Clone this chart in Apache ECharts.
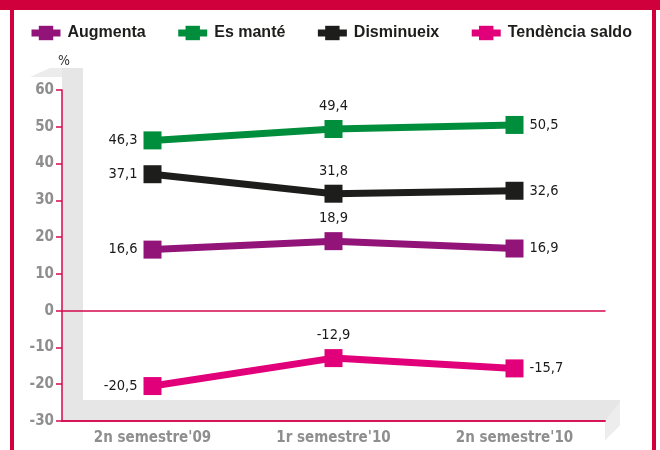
<!DOCTYPE html>
<html>
<head>
<meta charset="utf-8">
<script src="https://cdn.jsdelivr.net/npm/echarts@6/dist/echarts.min.js"></script>
<style>
  html, body { margin: 0; padding: 0; background: #fff; }
  #main { width: 660px; height: 450px; }
</style>
</head>
<body>
<div id="main"></div>
<script>
var categories = ["2n semestre'09", "1r semestre'10", "2n semestre'10"];
var augmenta = [16.6, 18.9, 16.9];
var esMante = [46.3, 49.4, 50.5];
var disminueix = [37.1, 31.8, 32.6];
var tendencia = [-20.5, -12.9, -15.7];
var seriesNames = ['Augmenta', 'Es manté', 'Disminueix', 'Tendència saldo'];
var seriesColors = ['#921479', '#008e3c', '#1d1d1b', '#e2007a'];

var frameColor = '#d0003c';
var axisColor = '#d6084e';
var greyText = '#8e8e8e';
var narrow = '"Liberation Sans Narrow", "DejaVu Sans Condensed", sans-serif';

var labelPos = ['left', 'top', 'right'];

function makeSeries(name, values, color) {
    return {
        name: name,
        type: 'line',
        data: values.map(function (v, i) {
            return { value: v, label: { position: labelPos[i] } };
        }),
        symbol: 'rect',
        symbolSize: 18,
        lineStyle: { width: 7, color: color },
        itemStyle: { color: color },
        label: {
            show: true,
            distance: 6,
            color: '#1a1a1a',
            fontFamily: narrow,
            fontSize: 14.5,
            formatter: function (p) { return String(p.value).replace('.', ','); }
        },
        z: 3
    };
}

var myChart = echarts.init(document.getElementById('main'));

var option = {
    animation: false,
    backgroundColor: '#fff',
    graphic: [
        // frame
        { type: 'rect', shape: { x: 0, y: 0, width: 660, height: 10 }, style: { fill: frameColor } },
        { type: 'rect', shape: { x: 10, y: 0, width: 4, height: 450 }, style: { fill: frameColor } },
        { type: 'rect', shape: { x: 652, y: 0, width: 4, height: 450 }, style: { fill: frameColor } },
        // grey 3d wall and floor
        { type: 'polygon', z: -10, shape: { points: [[30, 77], [50, 68], [83, 68], [62, 77]] }, style: { fill: '#ececec' } },
        { type: 'rect', z: -10, shape: { x: 62, y: 68, width: 21, height: 353 }, style: { fill: '#e6e6e6' } },
        { type: 'polygon', z: -10, shape: { points: [[62, 400], [620, 400], [620, 425], [605, 440], [605, 421], [62, 421]] }, style: { fill: '#e6e6e6' } },
        { type: 'polygon', z: -10, shape: { points: [[605, 421], [620, 402], [620, 425], [605, 440]] }, style: { fill: '#ededed' } }
    ],
    legend: {
        left: 28,
        top: 25,
        padding: 0,
        itemWidth: 29,
        itemHeight: 18,
        itemGap: 29,
        lineStyle: { width: 7 },
        textStyle: {
            fontFamily: '"Liberation Sans", Arial, sans-serif',
            fontWeight: 'bold',
            fontSize: 16,
            color: '#1d1d1b',
            padding: [0, 0, 0, 2]
        },
        data: seriesNames
    },
    grid: { left: 62, right: 55, top: 90, bottom: 29, containLabel: false },
    xAxis: [{
        type: 'category',
        data: categories,
        position: 'bottom',
        axisLine: { onZero: false, lineStyle: { color: axisColor, width: 1.5 } },
        axisTick: { length: 6, lineStyle: { color: axisColor, width: 1.5 } },
        axisLabel: {
            margin: 10,
            color: greyText,
            fontFamily: narrow,
            fontWeight: 'bold',
            fontSize: 15
        }
    }, {
        type: 'category',
        data: categories,
        position: 'bottom',
        axisLine: { onZero: true, lineStyle: { color: axisColor, width: 1.5 } },
        axisTick: { inside: true, length: 4, lineStyle: { color: axisColor, width: 1.5 } },
        axisLabel: { show: false }
    }, {
        type: 'category',
        data: categories,
        position: 'bottom',
        axisLine: { onZero: true, lineStyle: { color: axisColor, width: 1.5 } },
        axisTick: { length: 4, lineStyle: { color: axisColor, width: 1.5 } },
        axisLabel: { show: false }
    }],
    yAxis: {
        type: 'value',
        min: -30,
        max: 60,
        interval: 10,
        name: '%',
        nameGap: 22,
        nameTextStyle: { color: '#333', fontFamily: narrow, fontSize: 14, align: 'center', padding: [0, 0, 0, 4] },
        axisLine: { show: true, lineStyle: { color: axisColor, width: 1.5 } },
        axisTick: { show: true, length: 6, lineStyle: { color: axisColor, width: 1.5 } },
        axisLabel: {
            margin: 8,
            color: greyText,
            fontFamily: narrow,
            fontWeight: 'bold',
            fontSize: 15
        },
        splitLine: { show: false }
    },
    series: [
        makeSeries(seriesNames[0], augmenta, seriesColors[0]),
        makeSeries(seriesNames[1], esMante, seriesColors[1]),
        makeSeries(seriesNames[2], disminueix, seriesColors[2]),
        makeSeries(seriesNames[3], tendencia, seriesColors[3])
    ]
};

option && myChart.setOption(option);
</script>
</body>
</html>
